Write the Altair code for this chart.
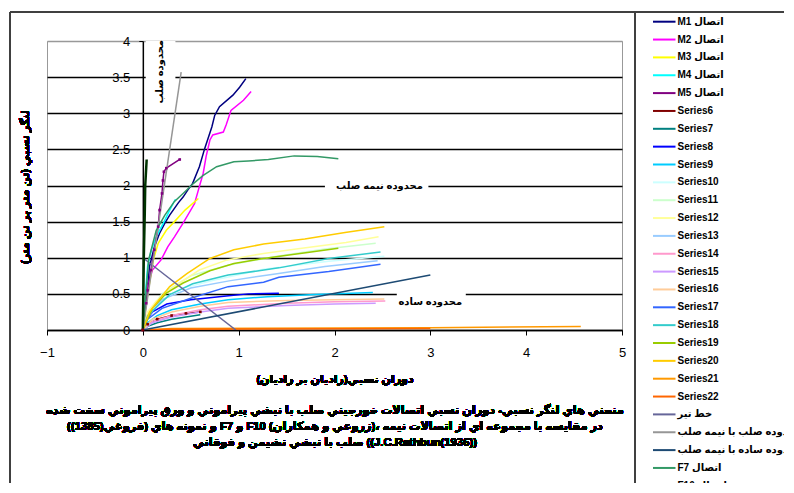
import altair as alt
import pandas as pd

RLE, PDF, LRM = "\u202b", "\u202c", "\u200e"


def rtl(s):
    return RLE + s + PDF


def ltr(s):
    return LRM + s


FONT = "Liberation Sans, DejaVu Sans"

# ---------------- series (legend order) ----------------
names = [rtl("اتصال M1"), rtl("اتصال M2"), rtl("اتصال M3"), rtl("اتصال M4"), rtl("اتصال M5")] + \
        [f"Series{i}" for i in range(6, 23)] + \
        [rtl("خط تير"), rtl("خط محدوده صلب با نيمه صلب"), rtl("خط محدوده ساده با نيمه صلب"),
         rtl("اتصال F7"), rtl("اتصال F10")]

colors = ["#000080", "#FF00FF", "#FFFF00", "#00FFFF", "#800080",
          "#800000", "#008080", "#0000FF", "#00CCFF", "#CCFFFF", "#CCFFCC",
          "#FFFF99", "#99CCFF", "#FF99CC", "#CC99FF", "#FFCC99", "#3366FF",
          "#33CCCC", "#99CC00", "#FFCC00", "#FF9900", "#FF6600",
          "#666699", "#969696", "#1d4a73", "#339966", "#003300"]

widths = [1.5] * 26 + [2.5]

# ---------------- values ----------------
m1_x = [0, 0.01, 0.035, 0.07, 0.12, 0.175, 0.23, 0.28, 0.37, 0.42, 0.47, 0.52, 0.59, 0.645, 0.72, 0.75, 0.80, 0.94, 1.01, 1.075]
m1_y = [0, 0.2, 0.41, 0.88, 1.15, 1.34, 1.48, 1.59, 1.76, 1.84, 1.94, 2.03, 2.26, 2.51, 2.81, 2.97, 3.09, 3.25, 3.36, 3.48]
m2_x = [0, 0.02, 0.05, 0.10, 0.19, 0.26, 0.33, 0.42, 0.54, 0.58, 0.63, 0.66, 0.70, 0.73, 0.84, 0.87, 0.92, 1.05, 1.13]
m2_y = [0, 0.28, 0.60, 0.83, 0.97, 1.15, 1.29, 1.48, 1.75, 1.94, 2.17, 2.40, 2.63, 2.70, 2.74, 2.84, 3.04, 3.18, 3.30]
m3_x = [0, 0.035, 0.07, 0.11, 0.16, 0.245, 0.33, 0.44, 0.58]
m3_y = [0, 0.37, 0.65, 0.97, 1.20, 1.38, 1.50, 1.66, 1.82]
m4_x = [0, 0.02, 0.03, 0.05, 0.09, 0.14, 0.23, 0.28, 0.34]
m4_y = [0, 0.23, 0.55, 0.88, 1.11, 1.29, 1.52, 1.66, 1.81]
m5_x = [0, 0.035, 0.05, 0.085, 0.12, 0.16, 0.175, 0.20, 0.21, 0.22, 0.245, 0.385]
m5_y = [0, 0.37, 0.55, 0.83, 1.11, 1.43, 1.66, 1.89, 2.07, 2.19, 2.24, 2.36]
s6_x = [0, 0.05, 0.15, 0.3, 0.45, 0.6]
s6_y = [0, 0.08, 0.15, 0.2, 0.23, 0.25]
s7_x = [0, 0.05, 0.15, 0.3, 0.45, 0.6]
s7_y = [0, 0.05, 0.10, 0.15, 0.18, 0.21]
s8_x = [0, 0.04, 0.1, 0.25, 0.5, 0.87, 1.1, 1.42]
s8_y = [0, 0.15, 0.25, 0.36, 0.42, 0.47, 0.50, 0.51]
s9_x = [0, 0.05, 0.15, 0.3, 0.6, 0.89, 1.3, 1.8, 2.4]
s9_y = [0, 0.10, 0.20, 0.28, 0.36, 0.42, 0.46, 0.49, 0.52]
s10_x = [0, 0.05, 0.15, 0.42, 0.77, 1.26, 1.94, 2.52]
s10_y = [0, 0.20, 0.38, 0.58, 0.70, 0.84, 0.95, 1.02]
s11_x = [0, 0.05, 0.2, 0.5, 0.9, 1.4, 1.9, 2.43]
s11_y = [0, 0.22, 0.50, 0.75, 0.90, 1.02, 1.12, 1.20]
s12_x = [0, 0.05, 0.14, 0.35, 0.59, 0.88, 1.26, 1.6, 2.12, 2.46]
s12_y = [0, 0.25, 0.40, 0.62, 0.83, 0.97, 1.06, 1.12, 1.21, 1.29]
s13_x = [0, 0.05, 0.2, 0.5, 0.9, 1.4, 1.9, 2.45]
s13_y = [0, 0.18, 0.42, 0.58, 0.68, 0.78, 0.88, 0.96]
s14_x = [0, 0.1, 0.3, 0.6, 0.89, 1.5, 2.0, 2.53]
s14_y = [0, 0.12, 0.20, 0.28, 0.33, 0.37, 0.39, 0.40]
s15_x = [0, 0.1, 0.3, 0.6, 0.89, 1.5, 2.0, 2.43]
s15_y = [0, 0.10, 0.18, 0.25, 0.30, 0.34, 0.36, 0.37]
s16_x = [0, 0.1, 0.3, 0.6, 0.89, 1.5, 2.0, 2.52]
s16_y = [0, 0.15, 0.25, 0.33, 0.38, 0.41, 0.42, 0.43]
s17_x = [0, 0.05, 0.2, 0.5, 0.89, 1.26, 1.42, 1.94, 2.48]
s17_y = [0, 0.15, 0.30, 0.44, 0.60, 0.66, 0.73, 0.81, 0.91]
s18_x = [0, 0.05, 0.28, 0.52, 0.89, 1.42, 1.94, 2.48]
s18_y = [0, 0.20, 0.49, 0.64, 0.76, 0.86, 0.99, 1.08]
s19_x = [0, 0.1, 0.245, 0.42, 0.7, 0.95, 1.26, 1.7, 2.04]
s19_y = [0, 0.30, 0.51, 0.65, 0.82, 0.92, 0.99, 1.07, 1.13]
s20_x = [0, 0.07, 0.14, 0.28, 0.46, 0.70, 0.95, 1.26, 1.69, 2.11, 2.52]
s20_y = [0, 0.25, 0.37, 0.60, 0.78, 0.99, 1.11, 1.19, 1.26, 1.35, 1.43]
s21_x = [0, 0.3, 3.0, 4.57]
s21_y = [0, 0.02, 0.03, 0.05]
s22_x = [0, 0.3, 3.0]
s22_y = [0, 0.01, 0.02]
beam_x = [0, 0.97]
beam_y = [1.0, 0.0]
rigid_x = [0, 0.40]
rigid_y = [0, 3.57]
simple_x = [0, 3.0]
simple_y = [0, 0.76]
f7_x = [0, 0.035, 0.06, 0.105, 0.14, 0.23, 0.33, 0.42, 0.53, 0.63, 0.77, 0.95, 1.10, 1.31, 1.58, 1.82, 2.04]
f7_y = [0, 0.55, 0.97, 1.20, 1.38, 1.59, 1.78, 1.89, 2.03, 2.14, 2.26, 2.33, 2.34, 2.36, 2.41, 2.40, 2.37]
f10_x = [0, 0.005, 0.01, 0.02, 0.025, 0.04]
f10_y = [0, 0.5, 1.0, 1.6, 2.0, 2.36]

xs = [m1_x, m2_x, m3_x, m4_x, m5_x, s6_x, s7_x, s8_x, s9_x, s10_x, s11_x, s12_x, s13_x,
      s14_x, s15_x, s16_x, s17_x, s18_x, s19_x, s20_x, s21_x, s22_x, beam_x, rigid_x,
      simple_x, f7_x, f10_x]
ys = [m1_y, m2_y, m3_y, m4_y, m5_y, s6_y, s7_y, s8_y, s9_y, s10_y, s11_y, s12_y, s13_y,
      s14_y, s15_y, s16_y, s17_y, s18_y, s19_y, s20_y, s21_y, s22_y, beam_y, rigid_y,
      simple_y, f7_y, f10_y]
marker_series = [names[4], names[5]]

rows = []
for i, (n, xv, yv) in enumerate(zip(names, xs, ys)):
    for k, (a, b) in enumerate(zip(xv, yv)):
        rows.append({"series": n, "x": a, "y": b, "k": k, "s": i, "w": widths[i]})
df = pd.DataFrame(rows)

# zone labels
zone_text = ["محدوده صلب", "محدوده نيمه صلب", "محدوده ساده"]
zone_x = [0.18, 2.47, 3.0]
zone_y = [3.575, 1.99, 0.39]
zone_angle = [270, 0, 0]
zones = pd.DataFrame({"t": zone_text, "x": zone_x, "y": zone_y, "a": zone_angle})
# white boxes behind the zone labels
box_x0 = [0.03, 1.90, 2.65]
box_x1 = [0.34, 2.98, 3.37]
box_y0 = [3.30, 1.92, 0.30]
box_y1 = [4.0, 2.08, 0.57]
boxes = pd.DataFrame({"x0": box_x0, "x1": box_x1, "y0": box_y0, "y1": box_y1})

x_ticks = [-1, 0, 1, 2, 3, 4, 5]
y_ticks = [0, 0.5, 1, 1.5, 2, 2.5, 3, 3.5, 4]

x_title = ltr("دوران نسبي(راديان بر راديان)")
y_title = rtl("لنگر نسبي (تن متر بر تن متر)")
caption = [
    ltr("منحني هاي لنگر نسبي- دوران نسبي اتصالات خورجيني صلب با نبشي پيراموني و ورق پيراموني سخت شده"),
    ltr("(فروغي(1385)) و نمونه هاي F7 و F10 (زروعي و همكاران)، در مقايسه با مجموعه اي از اتصالات نيمه"),
    ltr("صلب با نبشي نشيمن و فوقاني ((J.C.Rathbun(1936))"),
]

# ---------------- encodings ----------------
W, H = 575, 289
xscale = alt.Scale(domain=[-1, 5], nice=False, zero=False)
yscale = alt.Scale(domain=[0, 4], nice=False, zero=False)
xaxis = alt.Axis(values=x_ticks, title=None, grid=False, tickSize=5, tickColor="black",
                 domainColor="black", domainWidth=1.5, labelPadding=11, labelFontSize=13,
                 labelColor="black", labelFont=FONT, format="d", labelFlush=False)
yaxis = alt.Axis(values=y_ticks, title=None, format="~g", offset=-W / 6.0, grid=True,
                 gridColor={"condition": {"test": "datum.value === 4", "value": "#999999"}, "value": "black"},
                 gridWidth=1.5, domainColor="black", domainWidth=1.5, tickColor="black",
                 tickSize=4, labelPadding=9, labelFontSize=13, labelColor="black", labelFont=FONT,
                 labelFlush=False)


def X(f):
    return alt.X(f, type="quantitative", scale=xscale, axis=xaxis)


def Y(f):
    return alt.Y(f, type="quantitative", scale=yscale, axis=yaxis)


frame_color = "#404040"
frame = [
    alt.Chart(df).mark_rule(color=frame_color, strokeWidth=1.5).encode(
        x=alt.value(-37), y=alt.value(-29), y2=alt.value(460)),
    alt.Chart(df).mark_rule(color=frame_color, strokeWidth=1.5).encode(
        x=alt.value(588), y=alt.value(-29), y2=alt.value(460)),
    alt.Chart(df).mark_rule(color=frame_color, strokeWidth=1.5).encode(
        x=alt.value(-37), x2=alt.value(760), y=alt.value(-29)),
]

box_layer = alt.Chart(boxes).mark_rect(color="white").encode(
    x=X("x0"), x2="x1", y=Y("y0"), y2="y1")

zone_layer = alt.Chart(zones).mark_text(font=FONT, fontSize=10, fontWeight="bold", color="black").encode(
    x=X("x"), y=Y("y"), text="t:N", angle=alt.Angle("a:Q", scale=None))

lines = alt.Chart(df).mark_line(clip=True).encode(
    x=X("x"), y=Y("y"),
    color=alt.Color("series:N", sort=names,
                    scale=alt.Scale(domain=names, range=colors),
                    legend=alt.Legend(title=None, orient="none", legendX=608.75, legendY=-27.8,
                                      symbolType="M-1.5,0H1.5", symbolSize=225, symbolStrokeWidth=2,
                                      labelFont=FONT, labelFontSize=10, labelFontWeight="bold",
                                      labelColor="black", labelOffset=4.75, rowPadding=3.85,
                                      symbolLimit=50, padding=0, labelLimit=0)),
    strokeWidth=alt.StrokeWidth("w:Q", scale=None, legend=None),
    order="k:Q",
    detail="s:N",
)

pts = alt.Chart(df[df["series"].isin(marker_series)]).mark_point(
    filled=True, size=7, shape="square", opacity=1).encode(
    x=X("x"), y=Y("y"),
    color=alt.Color("series:N", scale=alt.Scale(domain=names, range=colors), legend=None))

texts = [
    alt.Chart(df).mark_text(font=FONT, fontSize=11, fontWeight="bold", color="black", angle=270).encode(
        x=alt.value(-21), y=alt.value(146), text=alt.value(y_title)),
    alt.Chart(df).mark_text(font=FONT, fontSize=11, fontWeight="bold", color="black").encode(
        x=alt.value(288), y=alt.value(339), text=alt.value(x_title)),
]
for i, line in enumerate(caption):
    texts.append(alt.Chart(df).mark_text(font=FONT, fontSize=11.3, fontWeight="bold", color="black").encode(
        x=alt.value(288), y=alt.value(370 + 16 * i), text=alt.value(line)))

chart = alt.layer(*frame, box_layer, zone_layer, lines, pts, *texts).properties(
    width=W, height=H,
    padding={"left": 39, "top": 33, "right": 162, "bottom": 153},
    autosize=alt.AutoSizeParams(type="none"),
    background="white",
).configure_view(stroke="#999999", strokeWidth=1)

chart.save("out.html", embed_options={"renderer": "svg", "actions": False})
